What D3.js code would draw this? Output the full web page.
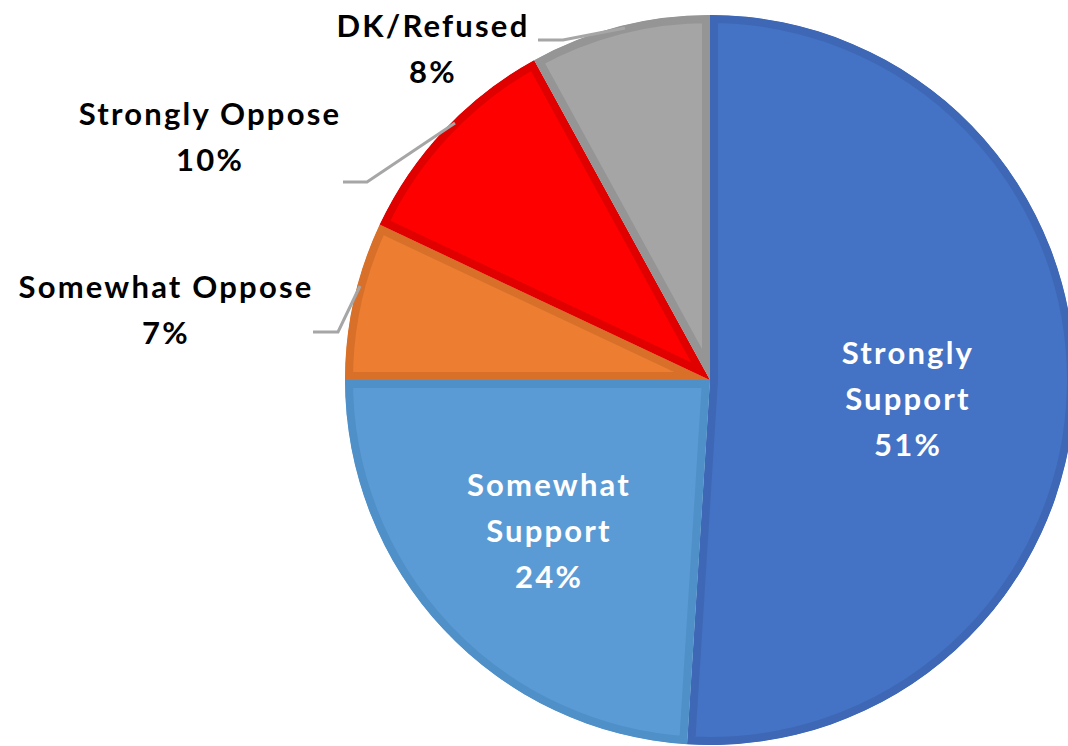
<!DOCTYPE html>
<html><head><meta charset="utf-8">
<script src="https://cdn.jsdelivr.net/npm/d3@7"></script>
<style>body{margin:0;background:#fff}svg{display:block}text{font-family:Lato,"Open Sans",sans-serif;font-weight:bold;letter-spacing:2.2px}</style>
</head><body>
<svg id="c" width="1068" height="746"></svg>
<script>
const categories = ["Strongly Support","Somewhat Support","Somewhat Oppose","Strongly Oppose","DK/Refused"];
const values = [51,24,7,10,8];
const labelText = ["51%","24%","7%","10%","8%"];
const fills = ["#4472C4","#5B9BD5","#ED7D31","#FF0000","#A5A5A5"];
const borders = ["#3E68B5","#5090C8","#D8702A","#E00000","#959595"];

const svg = d3.select("#c");
const cx = 710, cy = 380, R = 365;
const g = svg.append("g").attr("transform",`translate(${cx},${cy})`);
const pie = d3.pie().sort(null).value(d=>d)(values);
const arc = d3.arc().innerRadius(0).outerRadius(R);

const defs = svg.append("defs");
pie.forEach((p,i)=>{
  defs.append("clipPath").attr("id","cl"+i).append("path").attr("d",arc(p));
});
g.selectAll("path.s").data(pie).join("path").attr("class","s")
  .attr("d",arc).attr("fill",(d,i)=>fills[i])
  .attr("stroke",(d,i)=>borders[i]).attr("stroke-width",16)
  .attr("clip-path",(d,i)=>`url(#cl${i})`);

const fs = 31;
const inside = [
  {i:0, x:908, y:364, lines:["Strongly","Support"]},
  {i:1, x:549, y:496, lines:["Somewhat","Support"]}
];
inside.forEach(o=>{
  const t = svg.append("text").attr("text-anchor","middle").attr("fill","#fff").attr("font-size",fs);
  const ls = o.lines.concat([labelText[o.i]]);
  ls.forEach((s,k)=>t.append("tspan").attr("x",o.x).attr("y",o.y+k*46).text(s));
});
const outside = [
  {i:4, x:433, y:37, lead:[[538,40],[563,40],[625,28]]},
  {i:3, x:210, y:125, lead:[[343,182],[367,182],[455,123]]},
  {i:2, x:166, y:298, lead:[[313,332],[338,332],[360,286]]}
];
outside.forEach(o=>{
  svg.append("path").attr("d",d3.line()(o.lead)).attr("fill","none")
    .attr("stroke","#A6A6A6").attr("stroke-width",3);
  const t = svg.append("text").attr("text-anchor","middle").attr("fill","#000").attr("font-size",fs);
  t.append("tspan").attr("x",o.x).attr("y",o.y).text(categories[o.i]);
  t.append("tspan").attr("x",o.x).attr("y",o.y+46).text(labelText[o.i]);
});
</script>
</body></html>
